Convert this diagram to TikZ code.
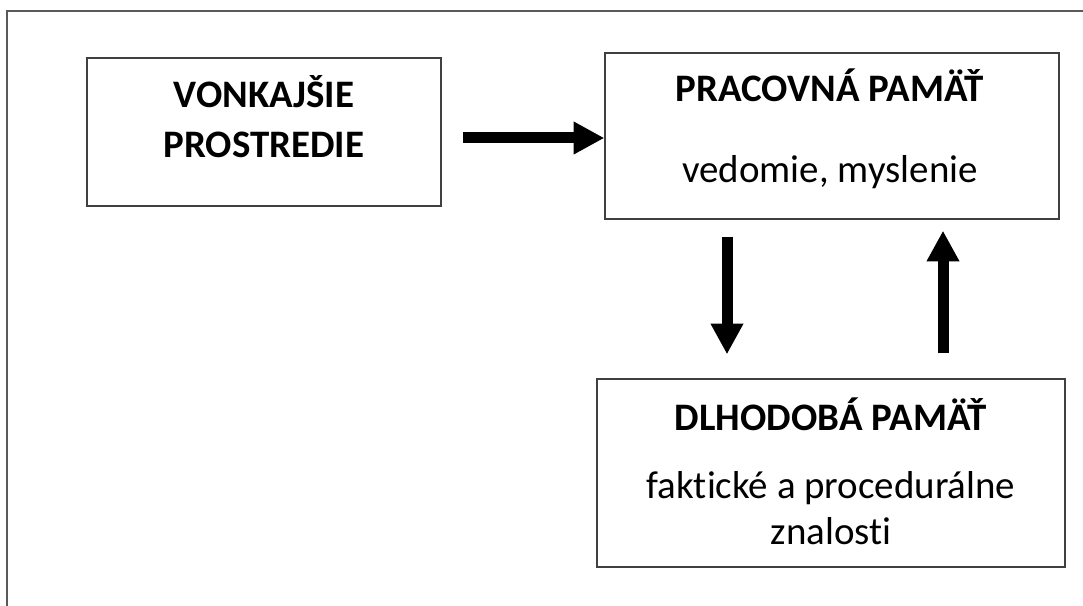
\documentclass[tikz,border=0pt]{standalone}
\usepackage{fontspec}
\setmainfont[Ligatures=NoCommon]{Carlito}
\usetikzlibrary{arrows.meta,positioning}
\tikzset{
  membox/.style={
    rectangle,
    draw=black!75,
    line width=1pt,
    inner sep=0pt
    },
  headtxt/.style={
    anchor=base,
    inner sep=0pt,
    font=\fontsize{29.2}{35}\selectfont\bfseries
    },
  subtxt/.style={
    anchor=base,
    inner sep=0pt,
    font=\fontsize{29.2}{35}\selectfont
    },
  fat/.style={
    line width=8.25pt,
    -{Triangle[length=23pt,width=23pt]}
    }
}

\begin{document}
\begin{tikzpicture}[x=0.75pt,y=-0.75pt]
\useasboundingbox (0,0) rectangle (1083,606);
% outer frame (cut off on the right and bottom)
\draw[black!65,line width=1.5pt] (1083,11) -- (7,11) -- (7,606);

% boxes
\node[membox,minimum width=265.5pt,minimum height=111pt]
  (env) at (264,132) {};
\node[membox,minimum width=340.5pt,minimum height=124.5pt]
  (work) at (832,136) {};
\node[membox,minimum width=351pt,minimum height=141pt]
  (long) at (831,473) {};

% texts
\node[headtxt] (envA) at (264,108) {VONKAJŠIE};
\node[headtxt] (envB) at (264,158) {PROSTREDIE};
\node[headtxt] (workA) at (830,102) {PRACOVNÁ PAMÄŤ};
\node[subtxt]  (workB) at (830,183) {vedomie, myslenie};
\node[headtxt] (longA) at (831,431) {DLHODOBÁ PAMÄŤ};
\node[subtxt]  (longB) at (831,498) {faktické a procedurálne};
\node[subtxt]  (longC) at (831,544) {znalosti};

% arrows
\draw[fat,shorten <=15.75pt]
  ([yshift=-4.5pt]env.east) -- ([yshift=-1.5pt]work.west);
\draw[fat,shorten <=12.75pt,shorten >=18pt]
  ([xshift=-78.75pt]work.south) -- ([xshift=-78pt]long.north);
\draw[fat,shorten <=18.75pt,shorten >=8.25pt]
  ([xshift=84pt]long.north) -- ([xshift=83.25pt]work.south);
\end{tikzpicture}
\end{document}
